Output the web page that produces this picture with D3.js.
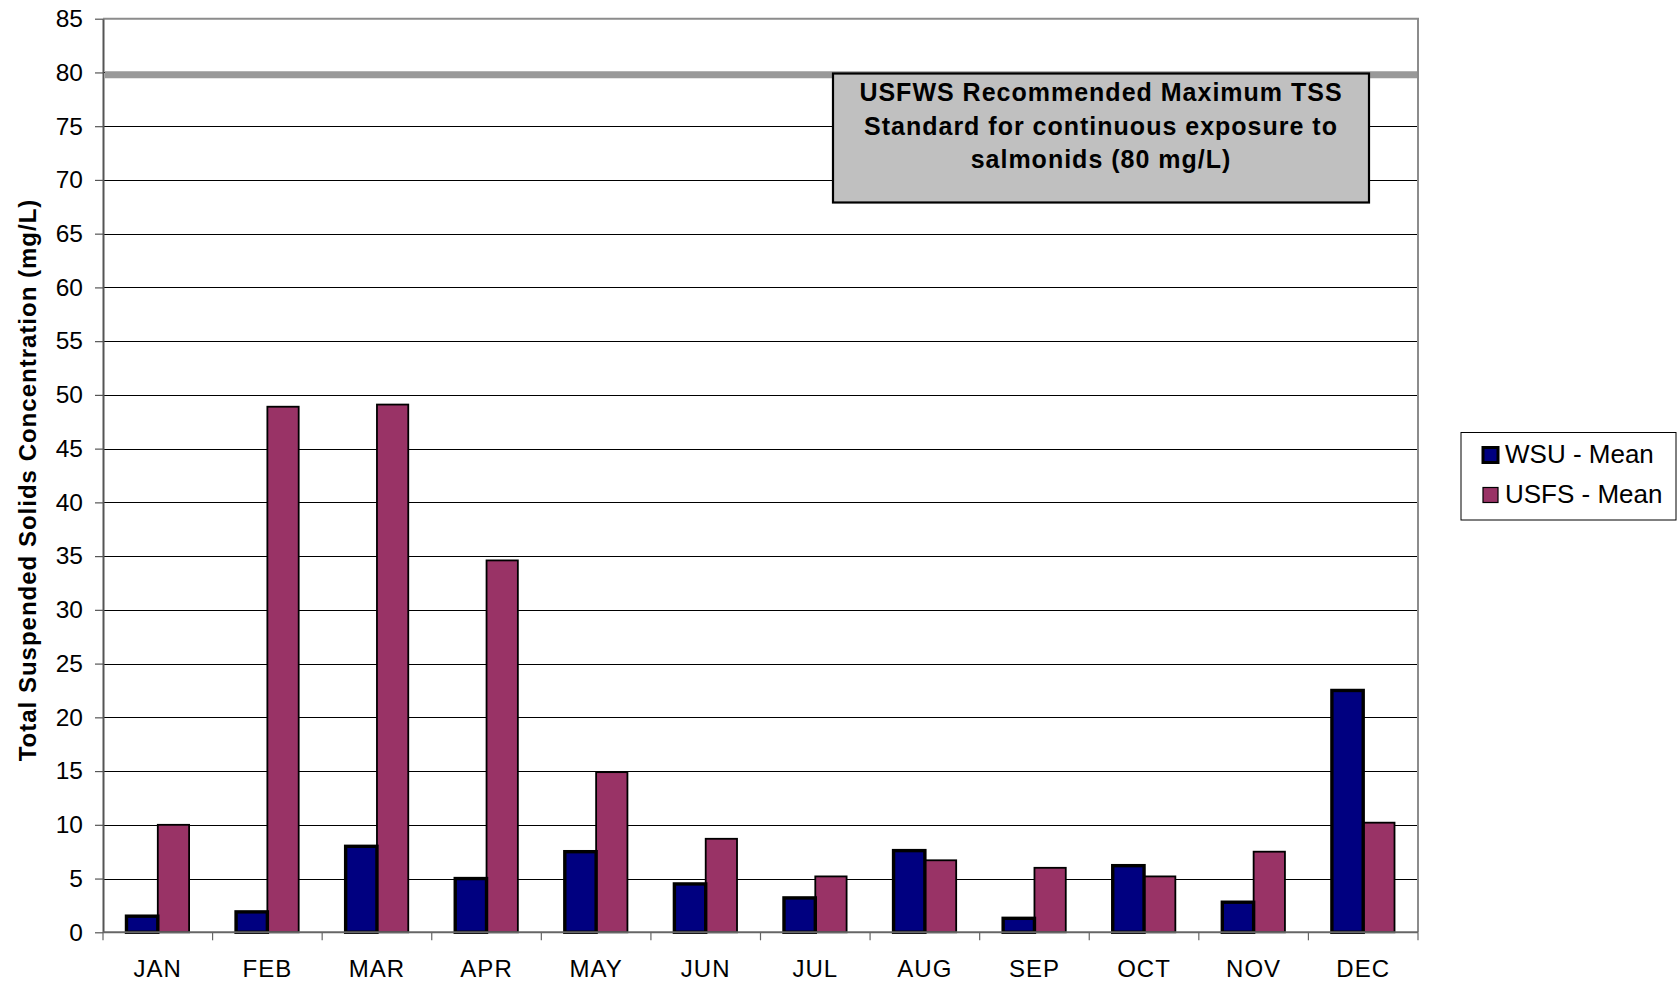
<!DOCTYPE html>
<html>
<head>
<meta charset="utf-8">
<script src="https://cdn.jsdelivr.net/npm/d3@7"></script>
<style>
  html, body { margin: 0; padding: 0; background: #fff; }
  svg { display: block; font-family: "Liberation Sans", Arial, sans-serif; }
</style>
</head>
<body>
<svg id="chart" width="1678" height="985"></svg>
<script>
// ---- data ----
const months = ["JAN","FEB","MAR","APR","MAY","JUN","JUL","AUG","SEP","OCT","NOV","DEC"];
const wsuMean  = [1.5, 1.9, 8.0, 5.0, 7.5, 4.5, 3.2, 7.6, 1.3, 6.2, 2.8, 22.5];
const usfsMean = [10.0, 48.9, 49.1, 34.6, 14.9, 8.7, 5.2, 6.7, 6.0, 5.2, 7.5, 10.2];
const seriesNames = ["WSU - Mean", "USFS - Mean"];
const yTicks = [0,5,10,15,20,25,30,35,40,45,50,55,60,65,70,75,80,85];
const threshold = 80;
const annotationLines = ["USFWS Recommended Maximum TSS", "Standard for continuous exposure to", "salmonids (80 mg/L)"];
const yTitle = "Total Suspended Solids Concentration (mg/L)";

// ---- layout ----
const svg = d3.select("#chart");
const plot = { left: 103, right: 1418, top: 18.7, bottom: 932.3 };
const colors = ["#000080", "#993366"];

const x = d3.scaleBand().domain(months).range([plot.left, plot.right])
  .paddingInner(1.5 / 3.5).paddingOuter(0.75 / 3.5);
const xs = d3.scaleBand().domain([0, 1]).range([0, x.bandwidth()]);
const y = d3.scaleLinear().domain([0, 85]).range([plot.bottom, plot.top]);

// gridlines
svg.append("g").selectAll("line").data(yTicks.filter(d => d > 0 && d < 85)).join("line")
  .attr("x1", plot.left).attr("x2", plot.right)
  .attr("y1", d => Math.round(y(d)) + 0.5).attr("y2", d => Math.round(y(d)) + 0.5)
  .attr("stroke", "#000").attr("stroke-width", 1);

// threshold line
svg.append("line")
  .attr("x1", plot.left + 2).attr("x2", plot.right)
  .attr("y1", y(threshold) + 2.3).attr("y2", y(threshold) + 2.3)
  .attr("stroke", "#999999").attr("stroke-width", 7);

// frame (top and right)
svg.append("path")
  .attr("d", `M${plot.left},${plot.top}H${plot.right}V${plot.bottom}`)
  .attr("fill", "none").attr("stroke", "#8c8c8c").attr("stroke-width", 2);

// bars
const rows = months.map((m, i) => ({ m, vals: [wsuMean[i], usfsMean[i]] }));
const groups = svg.append("g").selectAll("g").data(rows).join("g")
  .attr("transform", d => `translate(${x(d.m)},0)`);
// USFS first, then WSU on top (thicker outline)
[1, 0].forEach(s => {
  groups.append("rect")
    .attr("x", xs(s))
    .attr("y", d => y(d.vals[s]))
    .attr("width", xs.bandwidth())
    .attr("height", d => y(0) - y(d.vals[s]))
    .attr("fill", colors[s])
    .attr("stroke", "#000")
    .attr("stroke-width", s === 0 ? 3.4 : 1.8);
});

// y axis
const yAxis = svg.append("g").attr("transform", `translate(${plot.left},0)`)
  .call(d3.axisLeft(y).tickValues(yTicks).tickSize(8).tickPadding(12).tickSizeOuter(0));
yAxis.select(".domain").attr("stroke", "#555").attr("stroke-width", 2);
yAxis.selectAll(".tick line").attr("stroke", "#555").attr("stroke-width", 1.2);
yAxis.selectAll(".tick text").attr("font-size", 24.5).attr("fill", "#000")
  .attr("font-family", "'Liberation Sans', Arial, sans-serif");

// x axis baseline
svg.append("line").attr("x1", plot.left).attr("x2", plot.right)
  .attr("y1", plot.bottom).attr("y2", plot.bottom)
  .attr("stroke", "#666").attr("stroke-width", 2);
// x boundary ticks
const bounds = months.map(m => x(m) - x.step() * x.paddingOuter()).concat([plot.right]);
svg.append("g").selectAll("line").data(bounds).join("line")
  .attr("x1", d => d).attr("x2", d => d)
  .attr("y1", plot.bottom).attr("y2", plot.bottom + 8)
  .attr("stroke", "#666").attr("stroke-width", 1.2);
// x labels
svg.append("g").selectAll("text").data(months).join("text")
  .attr("x", d => x(d) + x.bandwidth() / 2)
  .attr("y", 977)
  .attr("text-anchor", "middle")
  .attr("font-size", 24)
  .attr("letter-spacing", 1)
  .text(d => d);

// y title
svg.append("text")
  .attr("transform", "translate(36,480) rotate(-90)")
  .attr("text-anchor", "middle")
  .attr("font-size", 24).attr("font-weight", "bold")
  .attr("letter-spacing", 1)
  .text(yTitle);

// annotation box
const ann = svg.append("g");
ann.append("rect").attr("x", 833).attr("y", 73.5).attr("width", 536).attr("height", 129)
  .attr("fill", "#c0c0c0").attr("stroke", "#000").attr("stroke-width", 2.2);
ann.selectAll("text").data(annotationLines).join("text")
  .attr("x", 1101).attr("y", (d, i) => 101 + i * 33.6)
  .attr("text-anchor", "middle").attr("font-size", 25).attr("font-weight", "bold")
  .attr("letter-spacing", 1)
  .text(d => d);

// legend
const leg = svg.append("g");
leg.append("rect").attr("x", 1461).attr("y", 432.5).attr("width", 215).attr("height", 87.5)
  .attr("fill", "#fff").attr("stroke", "#000").attr("stroke-width", 1);
const li = leg.selectAll("g").data(seriesNames).join("g")
  .attr("transform", (d, i) => `translate(0,${i * 40})`);
li.append("rect").attr("x", 1483).attr("y", 447.5).attr("width", 15).attr("height", 15)
  .attr("fill", (d, i) => colors[i]).attr("stroke", "#000")
  .attr("stroke-width", (d, i) => i === 0 ? 3 : 1.2);
li.append("text").attr("x", 1505).attr("y", 462.5)
  .attr("font-size", 26).text(d => d);
</script>
</body>
</html>
